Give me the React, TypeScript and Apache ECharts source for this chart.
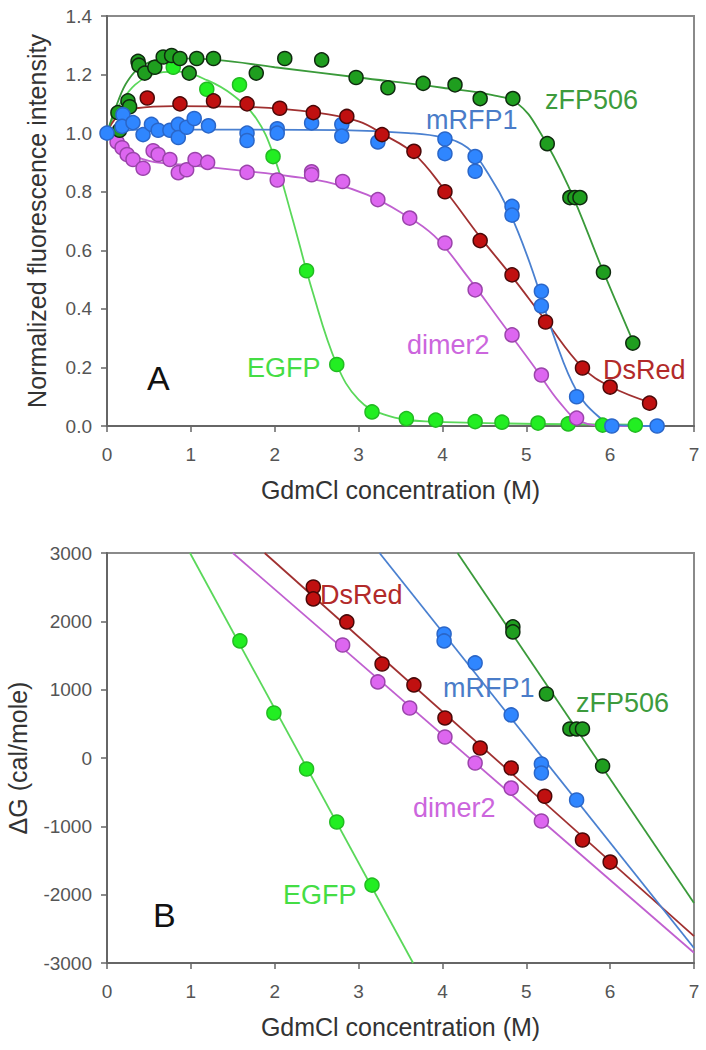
import React, { useEffect, useRef } from "react";
import * as echarts from "echarts";

const FONT = "'Liberation Sans', Arial, Helvetica, sans-serif";

// ---------- Panel A: normalized fluorescence (measured points) ----------
const zfpA: [number, number][] = [
  [0.13, 1.07], [0.15, 1.01], [0.25, 1.11], [0.27, 1.09], [0.37, 1.245], [0.38, 1.232],
  [0.45, 1.205], [0.57, 1.225], [0.67, 1.26], [0.77, 1.265], [0.87, 1.255], [0.98, 1.205],
  [1.07, 1.255], [1.27, 1.255], [1.78, 1.205], [2.12, 1.255], [2.56, 1.25], [2.97, 1.19],
  [3.35, 1.155], [3.77, 1.17], [4.15, 1.165], [4.45, 1.118], [4.84, 1.118], [5.25, 0.964],
  [5.52, 0.78], [5.58, 0.78], [5.64, 0.78], [5.92, 0.525], [6.27, 0.283],
];
const egfpA: [number, number][] = [
  [0.79, 1.225], [1.19, 1.15], [1.58, 1.165], [1.98, 0.92], [2.38, 0.53], [2.74, 0.21],
  [3.16, 0.048], [3.57, 0.025], [3.92, 0.02], [4.39, 0.015], [4.71, 0.013], [5.14, 0.01],
  [5.5, 0.007], [5.91, 0.003], [6.3, 0.003],
];
const mrfpA: [number, number][] = [
  [0, 1.0], [0.19, 1.063], [0.18, 1.023], [0.31, 1.036], [0.43, 0.995], [0.53, 1.03],
  [0.61, 1.01], [0.75, 1.01], [0.85, 1.03], [0.85, 0.985], [0.95, 1.02], [1.04, 1.05],
  [1.21, 1.025], [1.67, 1.0], [1.67, 0.975], [2.03, 1.015], [2.03, 1.0], [2.44, 1.035],
  [2.8, 1.03], [2.8, 0.99], [3.23, 0.97], [4.03, 0.98], [4.03, 0.93], [4.39, 0.92],
  [4.39, 0.87], [4.83, 0.75], [4.83, 0.72], [5.18, 0.46], [5.18, 0.41], [5.6, 0.1],
  [6.02, 0.0], [6.56, 0.0],
];
const dsredA: [number, number][] = [
  [0.48, 1.12], [0.87, 1.1], [1.27, 1.11], [1.67, 1.1], [2.06, 1.085], [2.46, 1.07],
  [2.86, 1.057], [3.28, 0.995], [3.66, 0.938], [4.03, 0.8], [4.45, 0.633], [4.83, 0.516],
  [5.23, 0.355], [5.67, 0.198], [6.0, 0.133], [6.47, 0.078],
];
const dimerA: [number, number][] = [
  [0.12, 0.97], [0.18, 0.95], [0.24, 0.927], [0.31, 0.91], [0.43, 0.88], [0.55, 0.94],
  [0.61, 0.927], [0.75, 0.91], [0.85, 0.865], [0.95, 0.875], [1.05, 0.91], [1.2, 0.9],
  [1.67, 0.866], [2.03, 0.84], [2.44, 0.868], [2.44, 0.858], [2.81, 0.835], [3.23, 0.773],
  [3.61, 0.71], [4.03, 0.625], [4.39, 0.465], [4.83, 0.311], [5.18, 0.174], [5.6, 0.027],
];

// ---------- Panel A: fitted curves ----------
const zfpFitA: [number, number][] = [
  [0, 1.0], [0.12, 1.1], [0.25, 1.18], [0.45, 1.235], [0.75, 1.255], [1.3, 1.25],
  [2.0, 1.225], [3.0, 1.19], [4.0, 1.155], [4.6, 1.13], [4.9, 1.1], [5.15, 1.01],
  [5.5, 0.82], [5.9, 0.54], [6.3, 0.27],
];
const egfpFitA: [number, number][] = [
  [0, 1.0], [0.2, 1.12], [0.5, 1.195], [0.85, 1.21], [1.2, 1.18], [1.5, 1.13],
  [1.78, 1.05], [1.98, 0.93], [2.2, 0.72], [2.45, 0.46], [2.74, 0.21], [3.0, 0.09],
  [3.3, 0.04], [3.8, 0.016], [6.35, 0.005],
];
const mrfpFitA: [number, number][] = [
  [0, 1.0], [0.4, 1.012], [1.5, 1.012], [2.8, 1.01], [3.6, 1.0], [4.0, 0.985],
  [4.3, 0.95], [4.55, 0.86], [4.8, 0.73], [5.05, 0.55], [5.35, 0.29], [5.6, 0.12],
  [5.85, 0.035], [6.05, 0.005], [6.56, 0.0],
];
const dsredFitA: [number, number][] = [
  [0, 1.0], [0.12, 1.055], [0.35, 1.085], [0.8, 1.092], [1.6, 1.09], [2.5, 1.07],
  [3.0, 1.04], [3.3, 0.995], [3.66, 0.93], [4.03, 0.805], [4.45, 0.645], [4.83, 0.51],
  [5.23, 0.36], [5.67, 0.2], [6.0, 0.135], [6.5, 0.078],
];
const dimerFitA: [number, number][] = [
  [0, 1.0], [0.2, 0.945], [0.5, 0.905], [1.0, 0.89], [1.6, 0.872], [2.2, 0.852],
  [2.7, 0.828], [3.1, 0.79], [3.5, 0.73], [3.9, 0.65], [4.3, 0.51], [4.7, 0.355],
  [5.1, 0.2], [5.4, 0.08], [5.65, 0.015], [6.0, 0.0], [6.5, 0.0],
];

// ---------- Panel B: ΔG (measured points) ----------
const egfpB: [number, number][] = [[1.585, 1713], [1.99, 659], [2.38, -161], [2.74, -937], [3.16, -1860]];
const dsredB: [number, number][] = [
  [2.46, 2503], [2.46, 2328], [2.86, 1991], [3.28, 1376], [3.66, 1069], [4.03, 586],
  [4.45, 146], [4.82, -146], [5.22, -560], [5.67, -1200], [6.0, -1523],
];
const dimerB: [number, number][] = [
  [2.81, 1654], [3.23, 1113], [3.61, 732], [4.03, 307], [4.39, -73], [4.82, -440], [5.18, -922],
];
const mrfpB: [number, number][] = [
  [4.02, 1815], [4.02, 1713], [4.39, 1391], [4.82, 630], [5.18, -88], [5.18, -220], [5.6, -615],
];
const zfpB: [number, number][] = [
  [4.84, 1918], [4.84, 1845], [5.24, 937], [5.52, 425], [5.6, 425], [5.67, 425], [5.91, -117],
];

// ---------- Panel B: linear fits (end points) ----------
const egfpFitB: [number, number][] = [[0.99, 3000], [3.65, -3000]];
const dsredFitB: [number, number][] = [[1.88, 3000], [7, -2606]];
const dimerFitB: [number, number][] = [[1.5, 3000], [7, -2850]];
const mrfpFitB: [number, number][] = [[3.25, 3000], [7, -2780]];
const zfpFitB: [number, number][] = [[4.18, 3000], [7, -2123]];

// ---------- Axis / label texts ----------
const xTitle = "GdmCl concentration (M)";
const yTitleA = "Normalized fluorescence intensity";
const yTitleB = "ΔG (cal/mole)";

// ---------- Styles ----------
const C = {
  zfp: { fill: "#1f9e1f", border: "#0f2a0f", line: "#3a9a3a", text: "#3d9b3d" },
  egfp: { fill: "#22ee22", border: "#22bb22", line: "#5ad85a", text: "#44dd44" },
  mrfp: { fill: "#2f86ff", border: "#2a66c8", line: "#4a80d0", text: "#4a7cc8" },
  dsred: { fill: "#c01010", border: "#4a0808", line: "#a03030", text: "#b22a2a" },
  dimer: { fill: "#dd66f0", border: "#9a44aa", line: "#c060d0", text: "#cc66dd" },
};

const scatter = (name: string, data: [number, number][], c: any, idx: number) => ({
  type: "scatter",
  name,
  xAxisIndex: idx,
  yAxisIndex: idx,
  data,
  symbolSize: 14,
  itemStyle: { color: c.fill, borderColor: c.border, borderWidth: 1.5, opacity: 1 },
  z: 5,
});

const line = (name: string, data: [number, number][], c: any, idx: number, smooth: boolean) => ({
  type: "line",
  name,
  xAxisIndex: idx,
  yAxisIndex: idx,
  data,
  showSymbol: false,
  symbol: "none",
  smooth: smooth ? 0.4 : false,
  lineStyle: { color: c.line, width: 1.8 },
  clip: true,
  z: 3,
});

const axisCommon = {
  axisLine: { show: true, onZero: false, lineStyle: { color: "#666", width: 2 } },
  axisTick: { show: true, inside: false, length: 6, lineStyle: { color: "#666", width: 1.5 } },
  splitLine: { show: false },
};

const txt = (text: string, x: number, y: number, color: string, size: number) => ({
  type: "text",
  x,
  y,
  z: 10,
  style: {
    text,
    fill: color,
    font: `${size}px ${FONT}`,
    textAlign: "left",
    textVerticalAlign: "middle",
  },
});

export default function App() {
  const ref = useRef<HTMLDivElement>(null);
  useEffect(() => {
    if (!ref.current) return;
    const chart = echarts.init(ref.current, undefined, { renderer: "svg" });
    const gridBase = {
      left: 107, width: 587, height: 410, show: true,
      borderColor: "#8a8a8a", borderWidth: 2, backgroundColor: "transparent",
      containLabel: false, outerBoundsMode: "none",
    };
    const xAxisOf = (gi: number) => ({
      type: "value",
      gridIndex: gi,
      min: 0,
      max: 7,
      interval: 1,
      name: xTitle,
      nameLocation: "middle",
      nameGap: 51,
      nameTextStyle: { fontSize: 25, color: "#333", fontFamily: FONT, verticalAlign: "top" },
      axisLabel: { fontSize: 19, color: "#555", fontFamily: FONT, margin: 19 },
      ...axisCommon,
    });
    chart.setOption({
      animation: false,
      backgroundColor: "#fff",
      textStyle: { fontFamily: FONT },
      grid: [
        { ...gridBase, top: 16 },
        { ...gridBase, top: 553 },
      ],
      xAxis: [xAxisOf(0), xAxisOf(1)],
      yAxis: [
        {
          type: "value",
          gridIndex: 0,
          min: 0,
          max: 1.4,
          interval: 0.2,
          name: yTitleA,
          nameLocation: "middle",
          nameGap: 58,
          nameRotate: 90,
          nameTextStyle: { fontSize: 25, color: "#333", fontFamily: FONT },
          axisLabel: { fontSize: 19, color: "#555", fontFamily: FONT, margin: 15, formatter: (v: number) => v.toFixed(1) },
          ...axisCommon,
        },
        {
          type: "value",
          gridIndex: 1,
          min: -3000,
          max: 3000,
          interval: 1000,
          name: yTitleB,
          nameLocation: "middle",
          nameGap: 77,
          nameRotate: 90,
          nameTextStyle: { fontSize: 25, color: "#333", fontFamily: FONT },
          axisLabel: { fontSize: 19, color: "#555", fontFamily: FONT, margin: 15, formatter: (v: number) => String(v) },
          ...axisCommon,
        },
      ],
      series: [
        line("EGFP fit", egfpFitA, C.egfp, 0, true),
        line("dimer2 fit", dimerFitA, C.dimer, 0, true),
        line("DsRed fit", dsredFitA, C.dsred, 0, true),
        line("mRFP1 fit", mrfpFitA, C.mrfp, 0, true),
        line("zFP506 fit", zfpFitA, C.zfp, 0, true),
        scatter("EGFP", egfpA, C.egfp, 0),
        scatter("dimer2", dimerA, C.dimer, 0),
        scatter("zFP506", zfpA, C.zfp, 0),
        scatter("mRFP1", mrfpA, C.mrfp, 0),
        scatter("DsRed", dsredA, C.dsred, 0),

        line("EGFP fit B", egfpFitB, C.egfp, 1, false),
        line("dimer2 fit B", dimerFitB, C.dimer, 1, false),
        line("DsRed fit B", dsredFitB, C.dsred, 1, false),
        line("mRFP1 fit B", mrfpFitB, C.mrfp, 1, false),
        line("zFP506 fit B", zfpFitB, C.zfp, 1, false),
        scatter("EGFP B", egfpB, C.egfp, 1),
        scatter("dimer2 B", dimerB, C.dimer, 1),
        scatter("mRFP1 B", mrfpB, C.mrfp, 1),
        scatter("DsRed B", dsredB, C.dsred, 1),
        scatter("zFP506 B", zfpB, C.zfp, 1),
      ],
      graphic: [
        txt("zFP506", 545, 100, C.zfp.text, 27),
        txt("mRFP1", 426, 120, C.mrfp.text, 27),
        txt("DsRed", 603, 370, C.dsred.text, 27),
        txt("dimer2", 407, 345, C.dimer.text, 27),
        txt("EGFP", 247, 368, C.egfp.text, 27),
        txt("A", 147, 378, "#111", 34),
        txt("DsRed", 320, 595, C.dsred.text, 27),
        txt("mRFP1", 443, 688, C.mrfp.text, 27),
        txt("zFP506", 576, 703, C.zfp.text, 27),
        txt("dimer2", 413, 808, C.dimer.text, 27),
        txt("EGFP", 283, 895, C.egfp.text, 27),
        txt("B", 153, 915, "#111", 34),
      ],
    });
    return () => chart.dispose();
  }, []);
  return (
    <div
      ref={ref}
      style={{ position: "absolute", left: 0, top: 0, width: 706, height: 1050, background: "#fff" }}
    />
  );
}
